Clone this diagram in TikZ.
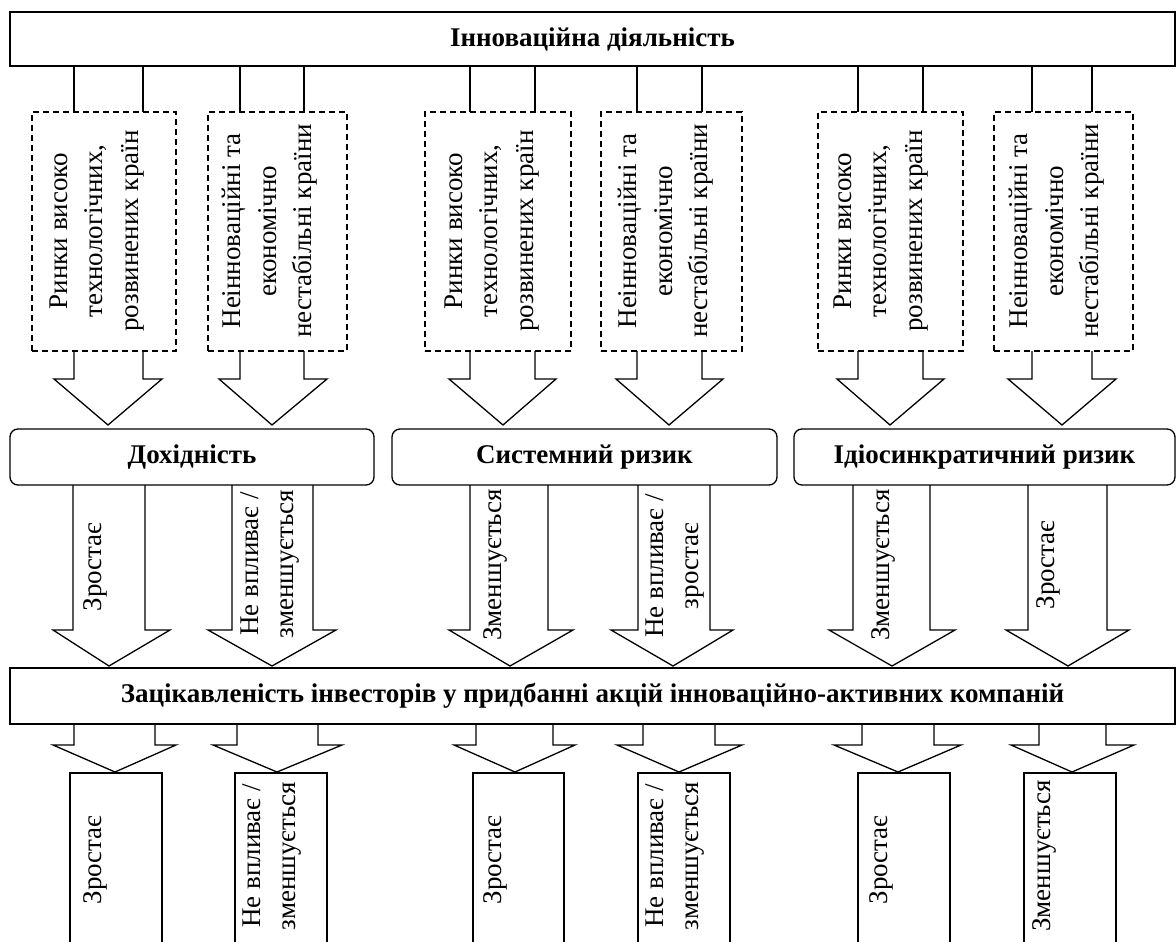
\documentclass[tikz,border=0pt]{standalone}
\usepackage{fontspec}
\setmainfont{Liberation Serif}
\newcommand\blockarrow[8]{%
  \draw[arr] (#2,0 |- #1.south) -- (#2,#7) -- (#4,#7) -- (#6,#8) -- (#5,#7) -- (#3,#7) -- (#3,0 |- #1.south);}
\begin{document}
\begin{tikzpicture}[x=1pt,y=-1pt, line width=1.3pt,
  box/.style={draw, inner sep=0pt, outer sep=0pt, font=\fontsize{27}{35.5}\selectfont\bfseries},
  rbox/.style={box, rounded corners=8pt},
  dbox/.style={box, dash pattern=on 6pt off 4pt},
  vtxt/.style={font=\fontsize{27}{35.5}\selectfont, align=center, inner sep=0pt, rotate=90},
  arr/.style={draw, line join=miter},
]
\useasboundingbox (0,0) rectangle (1176,942);

% top box
\node[box, minimum width=1165pt, minimum height=54pt] (top) at (592.5,39) {Інноваційна діяльність};

% dashed boxes
\node[dbox, minimum width=144pt, minimum height=239pt] (d1) at (104,231.5) {};
\node[dbox, minimum width=139pt, minimum height=239pt] (d2) at (277.5,231.5) {};
\node[dbox, minimum width=146pt, minimum height=239pt] (d3) at (498,231.5) {};
\node[dbox, minimum width=141pt, minimum height=239pt] (d4) at (671.5,231.5) {};
\node[dbox, minimum width=145pt, minimum height=239pt] (d5) at (890.5,231.5) {};
\node[dbox, minimum width=139pt, minimum height=239pt] (d6) at (1063.5,231.5) {};

\node[vtxt] (d1t) at (97,231) {Ринки високо\\технологічних,\\розвинених країн};
\node[vtxt] (d2t) at (270,231) {Неінноваційні та\\економічно\\нестабільні країни};
\node[vtxt] (d3t) at (492,231) {Ринки високо\\технологічних,\\розвинених країн};
\node[vtxt] (d4t) at (666,231) {Неінноваційні та\\економічно\\нестабільні країни};
\node[vtxt] (d5t) at (881,231) {Ринки високо\\технологічних,\\розвинених країн};
\node[vtxt] (d6t) at (1057,231) {Неінноваційні та\\економічно\\нестабільні країни};

% connector lines from top box to dashed boxes
\foreach \xa/\xb/\d in {74/143/d1, 240/304/d2, 470/535/d3, 637/702/d4, 858/923/d5, 1032/1092/d6}{
  \draw (\xa,0 |- top.south) -- (\xa,0 |- \d.north);
  \draw (\xb,0 |- top.south) -- (\xb,0 |- \d.north);
}

% rounded boxes
\node[rbox, minimum width=364pt, minimum height=56pt] (r1) at (192,457) {Дохідність};
\node[rbox, minimum width=385pt, minimum height=56pt] (r2) at (584.5,457) {Системний ризик};
\node[rbox, minimum width=381pt, minimum height=56pt] (r3) at (984.5,457) {Ідіосинкратичний ризик};

% bar
\node[box, minimum width=1165pt, minimum height=56pt] (bar) at (592.5,696) {Зацікавленість інвесторів у придбанні акцій інноваційно-активних компаній};

% bottom boxes (cut by the page edge)
\node[box, minimum width=92pt, minimum height=200pt] (e1) at (116,873) {};
\node[box, minimum width=92pt, minimum height=200pt] (e2) at (281,873) {};
\node[box, minimum width=91pt, minimum height=200pt] (e3) at (518.5,873) {};
\node[box, minimum width=92pt, minimum height=200pt] (e4) at (684,873) {};
\node[box, minimum width=92pt, minimum height=200pt] (e5) at (904,873) {};
\node[box, minimum width=92pt, minimum height=200pt] (e6) at (1070,873) {};

% block arrows: dashed boxes -> rounded boxes
\blockarrow{d1}{74}{143}{54}{162}{108}{379}{425}
\blockarrow{d2}{240}{304}{219}{327}{272}{379}{425}
\blockarrow{d3}{470}{535}{449}{556}{503}{379}{425}
\blockarrow{d4}{637}{702}{616}{723}{669}{379}{425}
\blockarrow{d5}{858}{923}{837}{944}{890}{379}{425}
\blockarrow{d6}{1032}{1092}{1008}{1116}{1062}{379}{425}

% block arrows: rounded boxes -> bar
\blockarrow{r1}{73}{145}{53}{170}{109}{630}{666}
\blockarrow{r1}{232}{313}{208}{336}{272}{630}{666}
\blockarrow{r2}{470}{548}{449}{573}{510}{630}{666}
\blockarrow{r2}{638}{710}{611}{733}{673}{630}{666}
\blockarrow{r3}{853}{930}{829}{955}{892}{630}{666}
\blockarrow{r3}{1028}{1107}{1006}{1129}{1068}{630}{666}

\node[vtxt] (b1t) at (95,567) {Зростає};
\node[vtxt] (b2t) at (270,564) {Не впливає /\\зменшується};
\node[vtxt] (b3t) at (495,565) {Зменшується};
\node[vtxt] (b4t) at (675,566) {Не впливає /\\зростає};
\node[vtxt] (b5t) at (883,565) {Зменшується};
\node[vtxt] (b6t) at (1048,565) {Зростає};

% block arrows: bar -> bottom boxes
\blockarrow{bar}{74}{155}{53}{176}{115}{745}{772}
\blockarrow{bar}{237}{318}{213}{342}{277}{745}{772}
\blockarrow{bar}{476}{553}{454}{575}{515}{745}{772}
\blockarrow{bar}{643}{715}{617}{742}{679}{745}{772}
\blockarrow{bar}{862}{934}{834}{961}{898}{745}{772}
\blockarrow{bar}{1039}{1106}{1011}{1134}{1072}{745}{772}

\node[vtxt] (e1t) at (95,860) {Зростає};
\node[vtxt] (e2t) at (272,856) {Не впливає /\\зменшується};
\node[vtxt] (e3t) at (495,860) {Зростає};
\node[vtxt] (e4t) at (675,856) {Не впливає /\\зменшується};
\node[vtxt] (e5t) at (881,860) {Зростає};
\node[vtxt] (e6t) at (1044,856) {Зменшується};
\end{tikzpicture}
\end{document}
